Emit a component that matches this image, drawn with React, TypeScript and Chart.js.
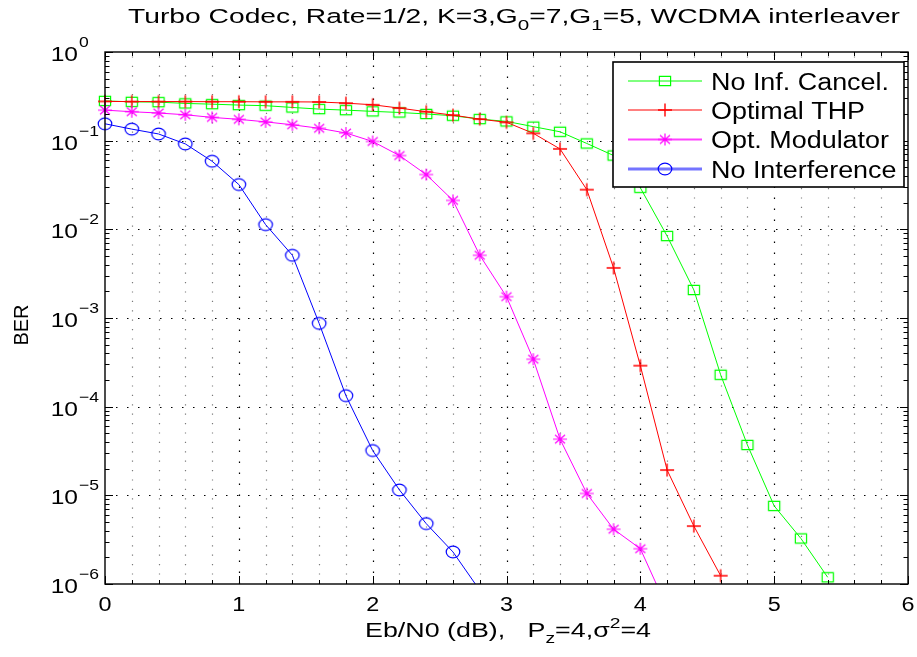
import React, { useEffect, useRef } from 'react';
import { Chart, registerables } from 'chart.js';

Chart.register(...registerables);

// ---------------- data ----------------
const xNoCancel = [0, 0.2, 0.4, 0.6, 0.8, 1, 1.2, 1.4, 1.6, 1.8, 2, 2.2, 2.4, 2.6, 2.8, 3, 3.2, 3.4, 3.6, 3.8, 4, 4.2, 4.4, 4.6, 4.8, 5, 5.2, 5.4];
const berNoCancel = [0.281, 0.274, 0.272, 0.263, 0.258, 0.252, 0.248, 0.237, 0.227, 0.221, 0.214, 0.208, 0.2, 0.191, 0.175, 0.165, 0.144, 0.126, 0.093, 0.068, 0.0294, 0.0084, 0.00207, 2.29e-4, 3.7e-5, 7.6e-6, 3.26e-6, 1.19e-6];

const xTHP = [0, 0.2, 0.4, 0.6, 0.8, 1, 1.2, 1.4, 1.6, 1.8, 2, 2.2, 2.4, 2.6, 2.8, 3, 3.2, 3.4, 3.6, 3.8, 4, 4.2, 4.4, 4.6];
const berTHP = [0.277, 0.276, 0.276, 0.276, 0.275, 0.275, 0.274, 0.274, 0.273, 0.265, 0.254, 0.233, 0.212, 0.194, 0.175, 0.161, 0.121, 0.0807, 0.028, 3.67e-3, 2.9e-4, 1.93e-5, 4.5e-6, 1.24e-6];

const xMod = [0, 0.2, 0.4, 0.6, 0.8, 1, 1.2, 1.4, 1.6, 1.8, 2, 2.2, 2.4, 2.6, 2.8, 3, 3.2, 3.4, 3.6, 3.8, 4, 4.2];
const berMod = [0.221, 0.212, 0.205, 0.196, 0.183, 0.174, 0.163, 0.151, 0.138, 0.122, 0.098, 0.068, 0.0415, 0.0212, 0.0051, 1.74e-3, 3.43e-4, 4.3e-5, 1.05e-5, 4.15e-6, 2.5e-6, 5.4e-7];

const xNoInt = [0, 0.2, 0.4, 0.6, 0.8, 1, 1.2, 1.4, 1.6, 1.8, 2, 2.2, 2.4, 2.6, 2.8];
const berNoInt = [0.155, 0.135, 0.119, 0.092, 0.0586, 0.032, 0.0113, 0.0051, 8.7e-4, 1.33e-4, 3.2e-5, 1.15e-5, 4.8e-6, 2.3e-6, 8.5e-7];

const seriesLabels = ['No Inf. Cancel.', 'Optimal THP', 'Opt. Modulator', 'No Interference'];
const xTickValues = [0, 1, 2, 3, 4, 5, 6];
const xTickLabels = ['0', '1', '2', '3', '4', '5', '6'];
const yTickExponents = [0, -1, -2, -3, -4, -5, -6];
const yExponentLabels = ['0', '\u22121', '\u22122', '\u22123', '\u22124', '\u22125', '\u22126'];

type Seg = { t: string; s?: 'sub' | 'sup' };
const titleSegs: Seg[] = [
  { t: 'Turbo Codec, Rate=1/2, K=3,G' }, { t: '0', s: 'sub' }, { t: '=7,G' }, { t: '1', s: 'sub' }, { t: '=5, WCDMA interleaver' },
];
const xLabelSegs: Seg[] = [
  { t: 'Eb/N0 (dB),\u00A0\u00A0\u00A0P' }, { t: 'z', s: 'sub' }, { t: '=4,\u03C3' }, { t: '2', s: 'sup' }, { t: '=4' },
];
const yLabel = 'BER';

// ---------------- styling ----------------
const FONT = '"Liberation Sans", Arial, Helvetica, sans-serif';
const STRETCH = 1.17;
const COLORS = { green: '#00ff00', red: '#ff0000', magenta: '#ff00ff', blue: '#0000ff' };

function makeMarker(kind: string, color: string): HTMLCanvasElement {
  const c = document.createElement('canvas');
  const W = 18, H = 16;
  c.width = W; c.height = H;
  const g = c.getContext('2d')!;
  g.strokeStyle = color;
  g.lineWidth = 1.2;
  const cx = W / 2, cy = H / 2;
  g.beginPath();
  if (kind === 'square') {
    g.rect(cx - 5.6, cy - 4.6, 11.2, 9.2);
  } else if (kind === 'circle') {
    g.ellipse(cx, cy, 6.8, 5.8, 0, 0, Math.PI * 2);
  } else if (kind === 'plus') {
    g.lineWidth = 1.4;
    g.moveTo(cx - 7, cy); g.lineTo(cx + 7, cy);
    g.moveTo(cx, cy - 6.5); g.lineTo(cx, cy + 6.5);
  } else if (kind === 'star') {
    g.moveTo(cx - 7, cy); g.lineTo(cx + 7, cy);
    g.moveTo(cx, cy - 6); g.lineTo(cx, cy + 6);
    g.moveTo(cx - 5, cy - 4.3); g.lineTo(cx + 5, cy + 4.3);
    g.moveTo(cx - 5, cy + 4.3); g.lineTo(cx + 5, cy - 4.3);
  }
  g.stroke();
  return c;
}

function measureRich(ctx: CanvasRenderingContext2D, segs: Seg[], size: number) {
  const small = Math.round(size * 0.72);
  let w = 0;
  for (const seg of segs) { ctx.font = `${seg.s ? small : size}px ${FONT}`; w += ctx.measureText(seg.t).width; }
  return w;
}

function drawRich(ctx: CanvasRenderingContext2D, segs: Seg[], x: number, y: number, size: number, align: 'left' | 'center' | 'right', stretch: number) {
  const small = Math.round(size * 0.72);
  const fontFor = (s?: string) => `${s ? small : size}px ${FONT}`;
  const total = measureRich(ctx, segs, size) * stretch;
  const x0 = align === 'center' ? x - total / 2 : align === 'right' ? x - total : x;
  ctx.save();
  ctx.translate(x0, y);
  ctx.scale(stretch, 1);
  ctx.textAlign = 'left';
  ctx.textBaseline = 'alphabetic';
  ctx.fillStyle = '#000';
  let cx = 0;
  for (const seg of segs) {
    ctx.font = fontFor(seg.s);
    const dy = seg.s === 'sub' ? size * 0.32 : seg.s === 'sup' ? -size * 0.45 : 0;
    ctx.fillText(seg.t, cx, dy);
    cx += ctx.measureText(seg.t).width;
  }
  ctx.restore();
  return total;
}

function drawRichFit(ctx: CanvasRenderingContext2D, segs: Seg[], left: number, y: number, size: number, width: number) {
  const w = measureRich(ctx, segs, size);
  drawRich(ctx, segs, left, y, size, 'left', width / w);
}

export default function App() {
  const ref = useRef<HTMLCanvasElement | null>(null);

  useEffect(() => {
    const canvas = ref.current;
    if (!canvas) return;

    const mk = {
      square: makeMarker('square', COLORS.green),
      plus: makeMarker('plus', COLORS.red),
      star: makeMarker('star', COLORS.magenta),
      circle: makeMarker('circle', COLORS.blue),
    };

    const toPts = (xs: number[], ys: number[]) => xs.map((x, i) => ({ x, y: ys[i] }));
    const clip = { left: 12, top: 12, right: 12, bottom: 0 };

    const ds = (label: string, xs: number[], ys: number[], color: string, marker: HTMLCanvasElement) => ({
      label,
      data: toPts(xs, ys),
      borderColor: color,
      backgroundColor: color,
      borderWidth: 1,
      pointStyle: marker,
      pointRadius: 6,
      pointHoverRadius: 6,
      tension: 0,
      clip,
    });

    const legendItems = [
      { label: seriesLabels[0], color: COLORS.green, width: 1, marker: mk.square },
      { label: seriesLabels[1], color: COLORS.red, width: 1, marker: mk.plus },
      { label: seriesLabels[2], color: 'rgba(255,0,255,0.75)', width: 2, marker: mk.star },
      { label: seriesLabels[3], color: 'rgba(70,70,255,0.75)', width: 3, marker: mk.circle },
    ];

    const matlabPlugin = {
      id: 'matlabAxes',
      beforeDatasetsDraw(chart: any) {
        const { ctx, chartArea: a, scales } = chart;
        const xs = scales.x, ys = scales.y;
        ctx.save();
        ctx.lineWidth = 1.2;
        for (let k = 1; k < 30; k++) {
          const px = Math.round(xs.getPixelForValue(k * 0.2)) + 0.5;
          const major = k % 5 === 0;
          ctx.strokeStyle = major ? '#000' : '#7a7a7a';
          ctx.setLineDash(major ? [1.5, 9.5] : [1.2, 8.2]);
          ctx.beginPath();
          ctx.moveTo(px, a.bottom);
          ctx.lineTo(px, a.top);
          ctx.stroke();
        }
        for (const e of yTickExponents) {
          if (e === 0 || e === -6) continue;
          const py = Math.round(ys.getPixelForValue(Math.pow(10, e))) + 0.5;
          ctx.strokeStyle = '#000';
          ctx.setLineDash([1.5, 9.5]);
          ctx.beginPath();
          ctx.moveTo(a.left, py);
          ctx.lineTo(a.right, py);
          ctx.stroke();
        }
        ctx.restore();
      },
      afterDatasetsDraw(chart: any) {
        const { ctx, chartArea: a, scales } = chart;
        const xs = scales.x, ys = scales.y;
        ctx.save();
        ctx.setLineDash([]);
        ctx.strokeStyle = '#000';
        ctx.lineWidth = 1.4;
        ctx.strokeRect(a.left, a.top, a.right - a.left, a.bottom - a.top);

        ctx.lineWidth = 1;
        ctx.beginPath();
        for (let k = 0; k <= 30; k++) {
          const px = Math.round(xs.getPixelForValue(k * 0.2)) + 0.5;
          const len = k % 5 === 0 ? 8 : 4;
          ctx.moveTo(px, a.bottom); ctx.lineTo(px, a.bottom - len);
          ctx.moveTo(px, a.top); ctx.lineTo(px, a.top + len);
        }
        for (const e of yTickExponents) {
          for (let m = 1; m <= 9; m++) {
            const v = m * Math.pow(10, e);
            if (v > 1 || v < 1e-6) continue;
            const py = Math.round(ys.getPixelForValue(v)) + 0.5;
            const len = m === 1 ? 8 : 4.5;
            ctx.moveTo(a.left, py); ctx.lineTo(a.left + len, py);
            ctx.moveTo(a.right, py); ctx.lineTo(a.right - len, py);
          }
        }
        ctx.stroke();

        ctx.fillStyle = '#000';
        xTickValues.forEach((v, i) => {
          drawRich(ctx, [{ t: xTickLabels[i] }], xs.getPixelForValue(v), a.bottom + 27, 20, 'center', STRETCH);
        });
        yTickExponents.forEach((e, i) => {
          const py = ys.getPixelForValue(Math.pow(10, e));
          const baseRight = 78;
          drawRich(ctx, [{ t: '10' }], baseRight, py + 9, 21, 'right', STRETCH);
          drawRich(ctx, [{ t: yExponentLabels[i] }], baseRight + 1, py - 5, 15, 'left', STRETCH);
        });

        drawRichFit(ctx, titleSegs, 128, 23, 20.5, 772);
        drawRichFit(ctx, xLabelSegs, 365, 637, 19.5, 286);

        ctx.save();
        ctx.translate(28, 325);
        ctx.rotate(-Math.PI / 2);
        ctx.font = `20px ${FONT}`;
        ctx.textAlign = 'center';
        ctx.textBaseline = 'alphabetic';
        ctx.fillStyle = '#000';
        ctx.fillText(yLabel, 0, 0);
        ctx.restore();

        const L = { left: 613, top: 62, right: 904, bottom: 187 };
        ctx.fillStyle = '#fff';
        ctx.fillRect(L.left, L.top, L.right - L.left, L.bottom - L.top);
        ctx.strokeStyle = '#000';
        ctx.lineWidth = 1.6;
        ctx.strokeRect(L.left, L.top, L.right - L.left, L.bottom - L.top);
        const rowY = [81, 110, 139.5, 169];
        legendItems.forEach((it, i) => {
          const y = rowY[i];
          ctx.strokeStyle = it.color;
          ctx.lineWidth = it.width;
          ctx.beginPath();
          ctx.moveTo(628, y); ctx.lineTo(702, y);
          ctx.stroke();
          ctx.drawImage(it.marker, 665 - it.marker.width / 2, y - it.marker.height / 2);
          drawRich(ctx, [{ t: it.label }], 711, y + 8.5, 23, 'left', STRETCH);
        });
        ctx.restore();
      },
    };

    const chart = new Chart(canvas, {
      type: 'line',
      data: {
        datasets: [
          ds(seriesLabels[3], xNoInt, berNoInt, COLORS.blue, mk.circle),
          ds(seriesLabels[2], xMod, berMod, COLORS.magenta, mk.star),
          ds(seriesLabels[1], xTHP, berTHP, COLORS.red, mk.plus),
          ds(seriesLabels[0], xNoCancel, berNoCancel, COLORS.green, mk.square),
        ] as any,
      },
      options: {
        animation: false,
        responsive: false,
        maintainAspectRatio: false,
        devicePixelRatio: 1,
        events: [],
        layout: { padding: { top: 52, right: 9, bottom: 0, left: 0 } },
        plugins: {
          legend: { display: false },
          title: { display: false },
          tooltip: { enabled: false },
        },
        scales: {
          x: {
            type: 'linear',
            min: 0,
            max: 6,
            grid: { display: false },
            border: { display: false },
            ticks: { display: false },
            afterFit: (s: any) => { s.height = 73; },
          },
          y: {
            type: 'logarithmic',
            min: 1e-6,
            max: 1,
            grid: { display: false },
            border: { display: false },
            ticks: { display: false },
            afterFit: (s: any) => { s.width = 105; },
          },
        },
      } as any,
      plugins: [matlabPlugin],
    });

    return () => chart.destroy();
  }, []);

  return (
    <div style={{ position: 'absolute', left: 0, top: 0, width: 917, height: 657, background: '#fff' }}>
      <canvas ref={ref} width={917} height={657} style={{ display: 'block', width: 917, height: 657 }} />
    </div>
  );
}
